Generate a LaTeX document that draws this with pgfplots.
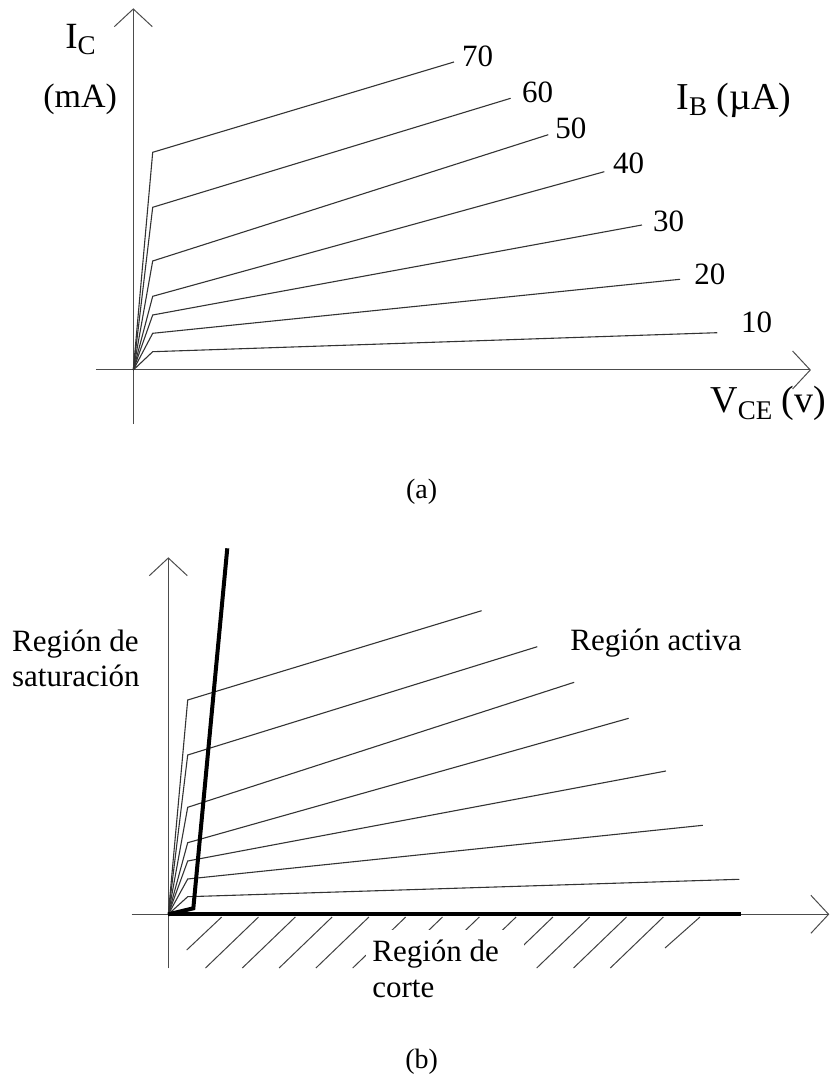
\documentclass[border=0pt]{standalone}
\usepackage{pgfplots}
\pgfplotsset{compat=1.18}
\usepackage{fontspec}
\setmainfont{Liberation Serif}
\usetikzlibrary{arrows.meta}

% common setup for the two characteristic plots: no frame, fixed units
\pgfplotsset{
  curvas/.style={
    hide axis, clip=false,
    x=9.7pt, y=5pt,
    anchor=origin,
  },
  curva/.style={black!80, line width=0.55pt, mark=none},
  gruesa/.style={black, line width=2pt, mark=none, line join=miter},
}
\tikzset{
  eje/.style={black!70, line width=0.5pt,
    -{Straight Barb[length=8.85pt,width=19pt]}},
  rayado/.style={black!75, line width=0.5pt},
}

\begin{document}
\begin{tikzpicture}
\useasboundingbox (0,0) rectangle (415pt,-537pt);

% ---------------- (a) output characteristics with I_B values
\begin{axis}[curvas, at={(66.65pt,-185pt)},
  xmin=-1.93, xmax=34.93, ymin=-5.4, ymax=36.17]
  \draw[eje] (axis cs:-1.93,0) -- (axis cs:34.93,0);
  \draw[eje] (axis cs:0,-5.4) -- (axis cs:0,36.17);
  % I_B = 70, 60, ..., 10 uA
  \addplot[curva] coordinates {(0,0) (1,21.77) (16.53,30.80)};
  \addplot[curva] coordinates {(0,0) (1,16.27) (19.45,27.17)};
  \addplot[curva] coordinates {(0,0) (1,10.90) (21.39,23.53)};
  \addplot[curva] coordinates {(0,0) (1,7.37) (24.28,19.83)};
  \addplot[curva] coordinates {(0,0) (1,5.50) (26.22,14.50)};
  \addplot[curva] coordinates {(0,0) (1,3.67) (28.18,9.07)};
  \addplot[curva] coordinates {(0,0) (1,1.83) (30.10,3.73)};
\end{axis}

% ---------------- (b) operating regions
\begin{axis}[curvas, at={(84.15pt,-457.15pt)},
  xmin=-1.89, xmax=34.07, ymin=-5.4, ymax=35.7]
  \draw[eje] (axis cs:-1.89,0) -- (axis cs:34.07,0);
  \draw[eje] (axis cs:0,-5.4) -- (axis cs:0,35.7);
  \addplot[curva] coordinates {(0,0) (1,21.43) (16.15,30.36)};
  \addplot[curva] coordinates {(0,0) (1,15.93) (19.02,26.76)};
  \addplot[curva] coordinates {(0,0) (1,10.70) (20.92,23.20)};
  \addplot[curva] coordinates {(0,0) (1,7.16) (23.73,19.60)};
  \addplot[curva] coordinates {(0,0) (1,5.33) (25.65,14.33)};
  \addplot[curva] coordinates {(0,0) (1,3.53) (27.55,8.90)};
  \addplot[curva] coordinates {(0,0) (1,1.76) (29.43,3.50)};
  % saturation boundary and cut-off line
  \addplot[gruesa] coordinates {(0,0) (1.29,0.6) (3.04,36.6)};
  \addplot[gruesa] coordinates {(0,0) (29.5,0)};
\end{axis}

\begin{scope}[x=0.5pt,y=-0.5pt]
  % labels of (a)
  \node[anchor=base west, inner sep=0] at (65,49)
    {\fontsize{18.5}{20}\selectfont I\raisebox{-3pt}{\fontsize{13.5}{15}\selectfont C}};
  \node[anchor=base west, inner sep=0] at (43,108)
    {\fontsize{17}{19}\selectfont (mA)};
  \node[anchor=base west, inner sep=0] at (676,110)
    {\fontsize{19}{21}\selectfont I\raisebox{-3pt}{\fontsize{13.5}{15}\selectfont B} (µA)};
  \node[anchor=base west, inner sep=0] at (710,413)
    {\fontsize{19}{21}\selectfont V\raisebox{-3pt}{\fontsize{13.5}{15}\selectfont CE} (v)};
  \begin{scope}[every node/.style={anchor=base west, inner sep=0,
      font=\fontsize{15.5}{17}\selectfont}]
    \node at (461.7,66.7) {70};
    \node at (521.7,102.7) {60};
    \node at (555,138.3) {50};
    \node at (612.7,173.3) {40};
    \node at (652.7,231.7) {30};
    \node at (694,285) {20};
    \node at (740.7,332.7) {10};
  \end{scope}
  \node[anchor=base, inner sep=0] at (421.7,498)
    {\fontsize{14}{16}\selectfont (a)};

  % cut-off region hatching below the V_CE axis
  \draw[rayado] (221.7,917) -- (186.7,950);
  \foreach \k in {1,...,12}
    \draw[rayado] ({221.7+36.8*\k},917) -- ({168.7+36.8*\k},968);
  \draw[rayado] (700,917) -- (665,948);
  \fill[white] (366,930) rectangle (524,1008);

  % labels of (b)
  \begin{scope}[every node/.style={anchor=base west, inner sep=0,
      font=\fontsize{15.5}{17.8}\selectfont}]
    \node at (11.7,651) {Región de};
    \node at (11.7,686.7) {saturación};
    \node at (570,650.7) {Región activa};
    \node at (372,961.7) {Región de};
    \node at (372,997.3) {corte};
  \end{scope}
  \node[anchor=base, inner sep=0] at (421.7,1068)
    {\fontsize{14}{16}\selectfont (b)};
\end{scope}
\end{tikzpicture}
\end{document}
